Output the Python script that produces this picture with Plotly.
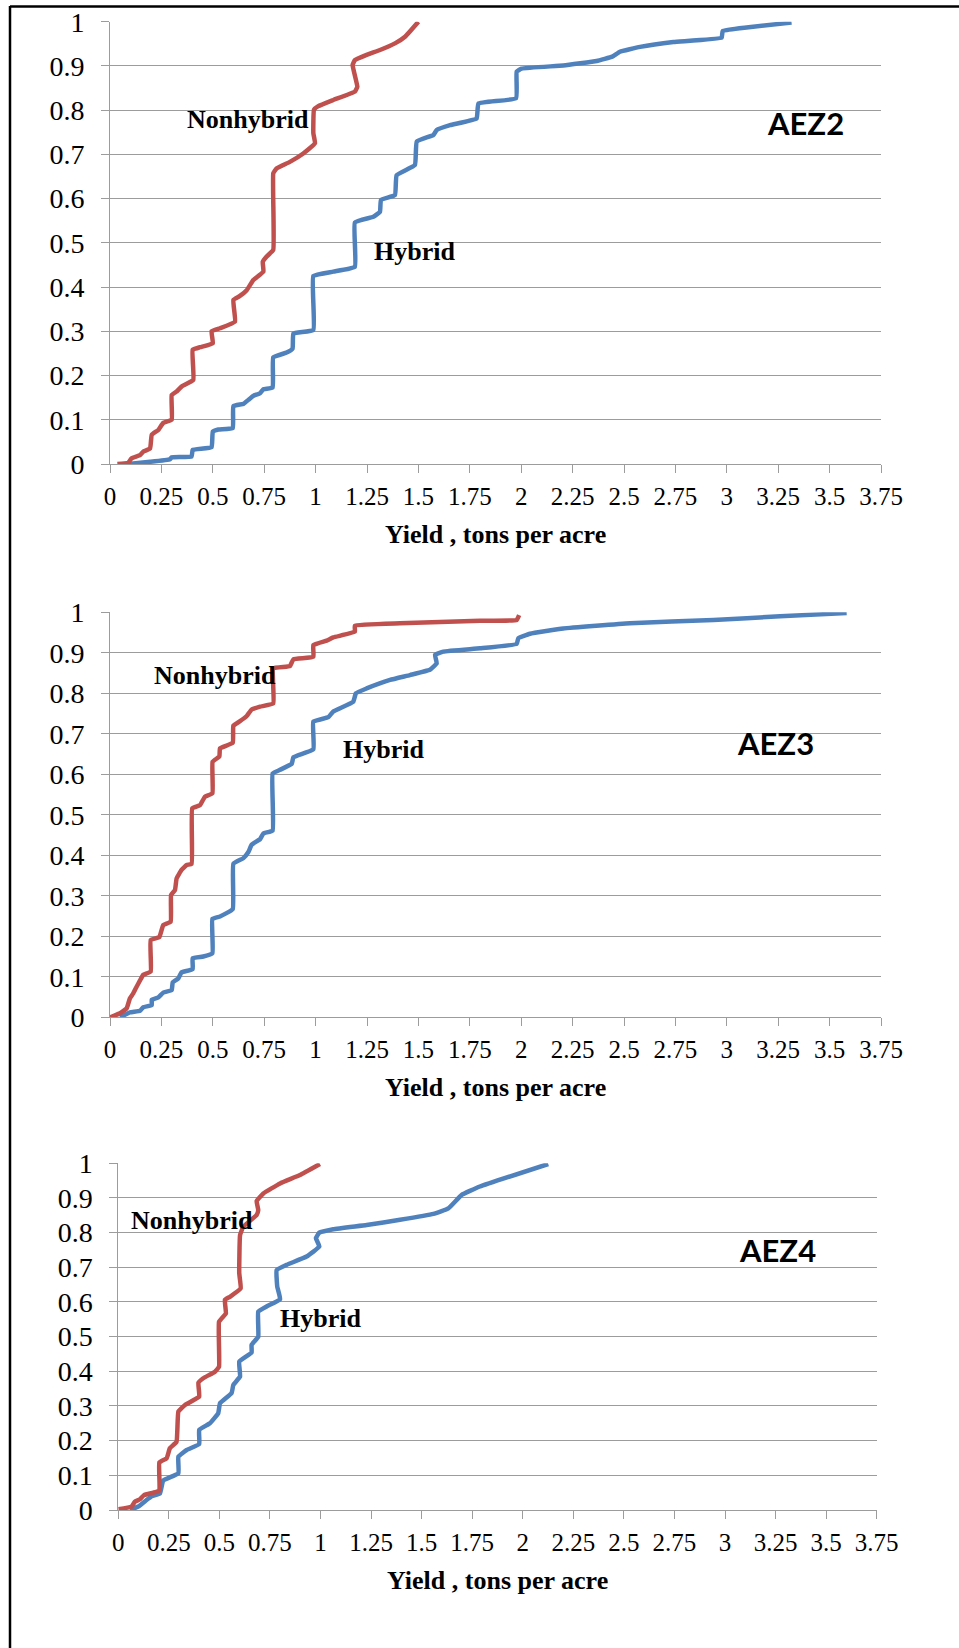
import plotly.graph_objects as go

W, H = 959, 1648

# ---------------- data ----------------
x_tick_vals = [0, 0.25, 0.5, 0.75, 1, 1.25, 1.5, 1.75, 2, 2.25, 2.5, 2.75, 3, 3.25, 3.5, 3.75]
x_tick_text = ["0", "0.25", "0.5", "0.75", "1", "1.25", "1.5", "1.75", "2", "2.25", "2.5", "2.75", "3", "3.25", "3.5", "3.75"]
y_tick_vals = [0, 0.1, 0.2, 0.3, 0.4, 0.5, 0.6, 0.7, 0.8, 0.9, 1]
y_tick_text = ["0", "0.1", "0.2", "0.3", "0.4", "0.5", "0.6", "0.7", "0.8", "0.9", "1"]

zones = ["AEZ2", "AEZ3", "AEZ4"]
series_names = ["Nonhybrid", "Hybrid"]
x_title = "Yield , tons per acre"

aez2_nonhybrid_x = [0.036, 0.089, 0.105, 0.146, 0.162, 0.195, 0.203, 0.235, 0.259, 0.30, 0.30, 0.324, 0.348, 0.405,
                    0.402, 0.438, 0.50, 0.494, 0.535, 0.608, 0.60, 0.632, 0.665, 0.697, 0.746, 0.743, 0.762, 0.794,
                    0.794, 0.81, 0.875, 0.94, 0.997, 0.989, 0.992, 1.013, 1.086, 1.191, 1.203, 1.18, 1.191, 1.248,
                    1.313, 1.386, 1.435, 1.50]
aez2_nonhybrid_y = [0.0, 0.003, 0.013, 0.02, 0.028, 0.035, 0.066, 0.077, 0.093, 0.10, 0.156, 0.164, 0.175, 0.19,
                    0.258, 0.264, 0.273, 0.30, 0.307, 0.322, 0.371, 0.38, 0.393, 0.416, 0.435, 0.457, 0.469, 0.484,
                    0.657, 0.668, 0.683, 0.702, 0.725, 0.748, 0.801, 0.809, 0.823, 0.842, 0.853, 0.902, 0.913, 0.925,
                    0.936, 0.951, 0.966, 1.0]

aez2_hybrid_x = [0.089, 0.195, 0.292, 0.30, 0.397, 0.402, 0.494, 0.50, 0.527, 0.597, 0.60, 0.649, 0.673, 0.697,
                 0.73, 0.746, 0.791, 0.794, 0.859, 0.888, 0.892, 0.989, 0.989, 1.086, 1.191, 1.191, 1.281, 1.313,
                 1.318, 1.386, 1.394, 1.483, 1.492, 1.573, 1.589, 1.654, 1.783, 1.792, 1.975, 1.978, 2.002, 2.205,
                 2.367, 2.443, 2.48, 2.578, 2.74, 2.975, 2.98, 3.096, 3.315]
aez2_hybrid_y = [0.0, 0.005, 0.011, 0.015, 0.017, 0.032, 0.038, 0.073, 0.078, 0.081, 0.131, 0.136, 0.145, 0.154,
                 0.16, 0.169, 0.173, 0.241, 0.252, 0.261, 0.295, 0.303, 0.425, 0.435, 0.446, 0.546, 0.559, 0.57,
                 0.597, 0.608, 0.653, 0.676, 0.729, 0.744, 0.755, 0.766, 0.781, 0.815, 0.827, 0.887, 0.894, 0.901,
                 0.911, 0.921, 0.932, 0.943, 0.954, 0.964, 0.979, 0.987, 0.998]

aez3_nonhybrid_x = [0.0, 0.049, 0.081, 0.097, 0.113, 0.13, 0.146, 0.162, 0.198, 0.198, 0.24, 0.259, 0.295, 0.297,
                    0.316, 0.324, 0.348, 0.373, 0.397, 0.40, 0.438, 0.462, 0.498, 0.499, 0.532, 0.535, 0.597, 0.60,
                    0.629, 0.665, 0.689, 0.73, 0.794, 0.794, 0.875, 0.892, 0.989, 0.989, 1.054, 1.086, 1.191, 1.191,
                    1.41, 1.80, 1.978, 1.99]
aez3_nonhybrid_y = [0.0, 0.01, 0.022, 0.047, 0.059, 0.076, 0.091, 0.105, 0.113, 0.191, 0.198, 0.228, 0.236, 0.302,
                    0.314, 0.343, 0.364, 0.376, 0.379, 0.516, 0.524, 0.545, 0.553, 0.631, 0.644, 0.664, 0.678, 0.72,
                    0.73, 0.744, 0.76, 0.767, 0.775, 0.862, 0.867, 0.884, 0.89, 0.919, 0.93, 0.938, 0.952, 0.967,
                    0.973, 0.979, 0.981, 0.993]

aez3_hybrid_x = [0.049, 0.097, 0.146, 0.162, 0.203, 0.203, 0.235, 0.259, 0.30, 0.305, 0.332, 0.348, 0.402, 0.402,
                 0.454, 0.498, 0.498, 0.535, 0.597, 0.60, 0.649, 0.673, 0.689, 0.73, 0.746, 0.791, 0.791, 0.827,
                 0.884, 0.892, 0.989, 0.989, 1.062, 1.086, 1.183, 1.196, 1.248, 1.362, 1.459, 1.556, 1.589, 1.581,
                 1.621, 1.80, 1.978, 1.986, 2.043, 2.205, 2.529, 2.935, 3.259, 3.583]
aez3_hybrid_y = [0.0, 0.012, 0.016, 0.025, 0.03, 0.043, 0.049, 0.061, 0.067, 0.086, 0.096, 0.111, 0.119, 0.146,
                 0.15, 0.158, 0.243, 0.249, 0.267, 0.379, 0.393, 0.408, 0.426, 0.44, 0.454, 0.461, 0.602, 0.611,
                 0.626, 0.642, 0.662, 0.73, 0.741, 0.755, 0.779, 0.80, 0.812, 0.833, 0.845, 0.858, 0.874, 0.895,
                 0.903, 0.911, 0.922, 0.936, 0.947, 0.96, 0.973, 0.981, 0.99, 0.998]

aez4_nonhybrid_x = [0.0, 0.066, 0.082, 0.107, 0.127, 0.173, 0.203, 0.203, 0.239, 0.255, 0.288, 0.297, 0.33, 0.40,
                    0.396, 0.42, 0.478, 0.498, 0.498, 0.532, 0.527, 0.552, 0.605, 0.598, 0.602, 0.618, 0.684, 0.692,
                    0.684, 0.717, 0.80, 0.898, 0.997]
aez4_nonhybrid_y = [0.002, 0.01, 0.024, 0.031, 0.043, 0.05, 0.056, 0.137, 0.149, 0.178, 0.197, 0.284, 0.303, 0.327,
                    0.367, 0.38, 0.399, 0.413, 0.543, 0.567, 0.606, 0.615, 0.639, 0.683, 0.793, 0.817, 0.851, 0.865,
                    0.891, 0.913, 0.942, 0.966, 0.998]

aez4_hybrid_x = [0.058, 0.099, 0.14, 0.165, 0.206, 0.222, 0.297, 0.297, 0.338, 0.40, 0.40, 0.453, 0.494, 0.503,
                 0.56, 0.569, 0.602, 0.598, 0.659, 0.659, 0.692, 0.692, 0.733, 0.80, 0.786, 0.783, 0.832, 0.931,
                 0.994, 0.977, 0.994, 1.063, 1.228, 1.393, 1.558, 1.632, 1.698, 1.788, 2.126]
aez4_hybrid_y = [0.0, 0.01, 0.029, 0.04, 0.048, 0.085, 0.106, 0.154, 0.173, 0.19, 0.231, 0.25, 0.279, 0.308,
                 0.337, 0.361, 0.385, 0.428, 0.454, 0.476, 0.50, 0.572, 0.587, 0.608, 0.644, 0.692, 0.707, 0.731,
                 0.76, 0.784, 0.80, 0.81, 0.822, 0.837, 0.854, 0.87, 0.909, 0.933, 0.998]

# label positions (data coordinates) per panel: nonhybrid, hybrid, zone
label_pos = [
    [(0.671, 0.778), (1.483, 0.48), (3.383, 0.771)],
    [(0.511, 0.845), (1.328, 0.662), (3.238, 0.678)],
    [(0.363, 0.834), (1.002, 0.553), (3.257, 0.75)],
]

# ---------------- layout geometry (pixels) ----------------
panels = [
    dict(x0=110, x1=881, y0=21.7, y1=464),
    dict(x0=110, x1=881, y0=612.3, y1=1017.3),
    dict(x0=118.3, x1=876.7, y0=1163.3, y1=1510),
]

RED = "#C0504D"
BLUE = "#4F81BD"
GRID = "#9C9C9C"
SERIF = "Liberation Serif"

data = [
    (aez2_nonhybrid_x, aez2_nonhybrid_y, aez2_hybrid_x, aez2_hybrid_y),
    (aez3_nonhybrid_x, aez3_nonhybrid_y, aez3_hybrid_x, aez3_hybrid_y),
    (aez4_nonhybrid_x, aez4_nonhybrid_y, aez4_hybrid_x, aez4_hybrid_y),
]

fig = go.Figure()
annotations = []

for i, (p, (nx, ny, hx, hy)) in enumerate(zip(panels, data)):
    sfx = "" if i == 0 else str(i + 1)
    xa, ya = "x" + sfx, "y" + sfx
    fig.add_trace(go.Scatter(x=hx, y=hy, mode="lines", name=series_names[1],
                             line=dict(color=BLUE, width=4.5, shape="spline", smoothing=0.3),
                             xaxis=xa, yaxis=ya, showlegend=False, hoverinfo="skip"))
    fig.add_trace(go.Scatter(x=nx, y=ny, mode="lines", name=series_names[0],
                             line=dict(color=RED, width=4.5, shape="spline", smoothing=0.3),
                             xaxis=xa, yaxis=ya, showlegend=False, hoverinfo="skip"))
    xdom = [p["x0"] / W, p["x1"] / W]
    ydom = [1 - p["y1"] / H, 1 - p["y0"] / H]
    fig.layout["xaxis" + sfx] = dict(
        domain=xdom, range=[0, 3.75], anchor=ya, tickmode="array", automargin=False,
        tickvals=x_tick_vals, ticktext=x_tick_text, ticks="outside", ticklen=8,
        tickcolor=GRID, tickwidth=1, showline=True, linecolor=GRID, linewidth=1,
        showgrid=False, zeroline=False, tickfont=dict(family=SERIF, size=25, color="black"),
        ticklabelstandoff=2, fixedrange=True)
    fig.layout["yaxis" + sfx] = dict(
        domain=ydom, range=[0, 1], anchor=xa, tickmode="array", automargin=False,
        tickvals=y_tick_vals, ticktext=y_tick_text, ticks="outside", ticklen=8,
        tickcolor=GRID, tickwidth=1, showline=True, linecolor=GRID, linewidth=1,
        showgrid=True, gridcolor=GRID, gridwidth=1, zeroline=False,
        tickfont=dict(family=SERIF, size=28, color="black"),
        ticklabelstandoff=11, fixedrange=True)

    lp = label_pos[i]
    annotations.append(dict(x=lp[0][0], y=lp[0][1], xref=xa, yref=ya, text=series_names[0],
                            showarrow=False, font=dict(family=SERIF, size=26, color="black", weight="bold")))
    annotations.append(dict(x=lp[1][0], y=lp[1][1], xref=xa, yref=ya, text=series_names[1],
                            showarrow=False, font=dict(family=SERIF, size=26, color="black", weight="bold")))
    annotations.append(dict(x=lp[2][0], y=lp[2][1], xref=xa, yref=ya, text=zones[i],
                            showarrow=False, font=dict(family="Lato", size=31, color="black", weight="bold")))
    # x-axis title
    annotations.append(dict(x=(p["x0"] + p["x1"]) / 2 / W, y=1 - (p["y1"] + 70) / H,
                            xref="paper", yref="paper", text=x_title, showarrow=False,
                            yanchor="middle", xanchor="center",
                            font=dict(family=SERIF, size=26, color="black", weight="bold")))

shapes = [
    dict(type="line", xref="paper", yref="paper", x0=10 / W, x1=10 / W, y0=0, y1=1 - 6 / H,
         line=dict(color="black", width=2.5)),
    dict(type="line", xref="paper", yref="paper", x0=10 / W, x1=1, y0=1 - 6.5 / H, y1=1 - 6.5 / H,
         line=dict(color="black", width=2.5)),
]

fig.update_layout(width=W, height=H, margin=dict(l=0, r=0, t=0, b=0, autoexpand=False),
                  paper_bgcolor="white", plot_bgcolor="white",
                  annotations=annotations, shapes=shapes)

fig.write_html("out.html", config={"displayModeBar": False, "staticPlot": True},
               post_script="document.body.style.margin='0px';document.body.style.overflow='hidden';")
